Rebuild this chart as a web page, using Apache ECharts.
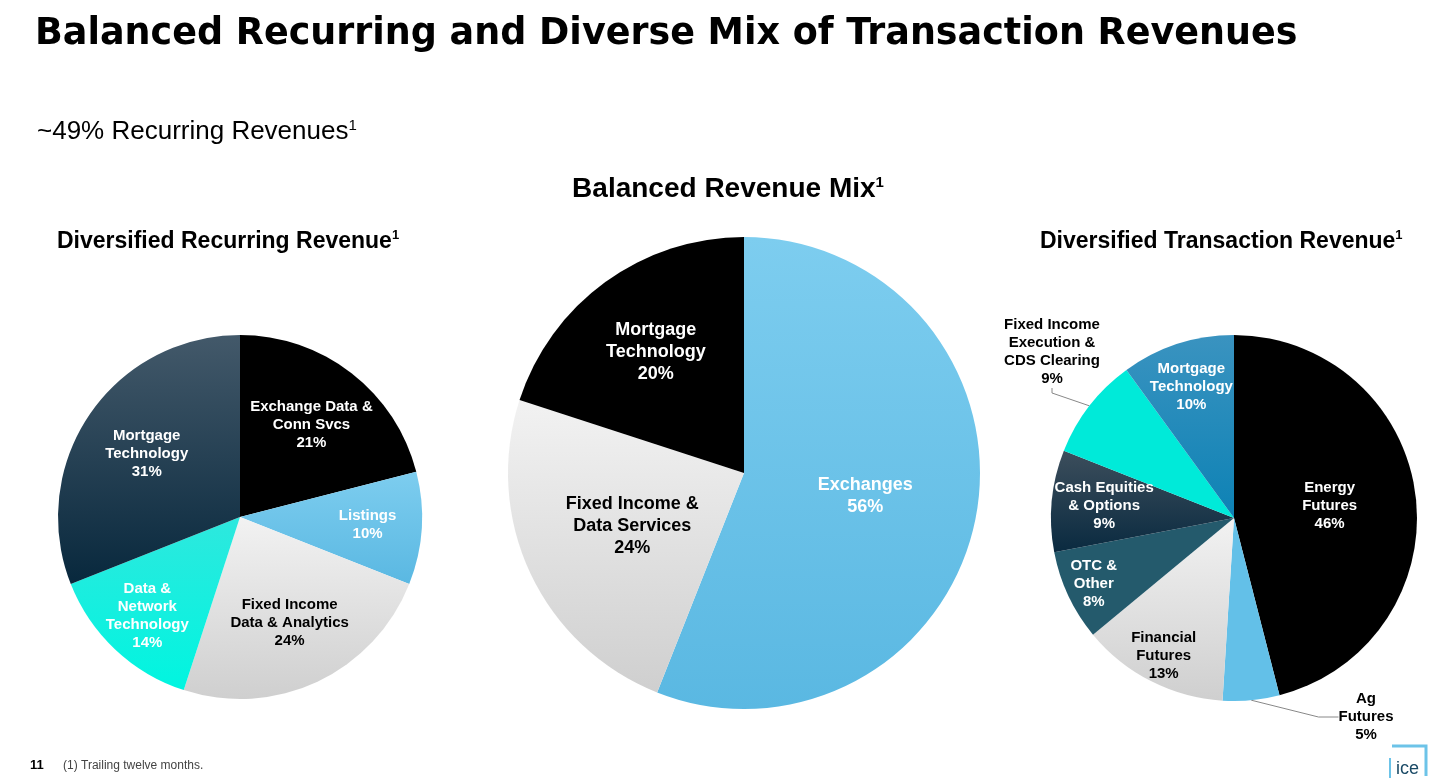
<!DOCTYPE html>
<html>
<head>
<meta charset="utf-8">
<script src="https://cdn.jsdelivr.net/npm/echarts@6/dist/echarts.min.js"></script>
<style>
  html, body { margin: 0; padding: 0; background: #fff; }
  #chart { width: 1456px; height: 783px; }
</style>
</head>
<body>
<div id="chart"></div>
<script>
// recurring revenue (left)
let recurringNames = ['Exchange Data &\nConn Svcs', 'Listings', 'Fixed Income\nData & Analytics', 'Data &\nNetwork\nTechnology', 'Mortgage\nTechnology'];
let recurringValues = [21, 10, 24, 14, 31];

// balanced mix (middle)
let mixNames = ['Exchanges', 'Fixed Income &\nData Services', 'Mortgage\nTechnology'];
let mixValues = [56, 24, 20];

// transaction revenue (right)
let transNames = ['Energy\nFutures', 'Ag\nFutures', 'Financial\nFutures', 'OTC &\nOther', 'Cash Equities\n& Options', 'Fixed Income\nExecution &\nCDS Clearing', 'Mortgage\nTechnology'];
let transValues = [46, 5, 13, 8, 9, 9, 10];

let FONT = '"Liberation Sans", Arial, sans-serif';

let grad = function (top, bottom) {
    return new echarts.graphic.LinearGradient(0, 0, 0, 1, [
        { offset: 0, color: top }, { offset: 1, color: bottom }
    ]);
};
let BLACK = '#000000',
    LIGHTBLUE = grad('#7dcdef', '#5ab8e2'),
    GRAY = grad('#f2f2f2', '#cfcfcf'),
    CYAN = grad('#2ee8de', '#00f5e0'),
    NAVY = grad('#43596a', '#08283d');

let labelWhite = { color: '#fff', fontWeight: 'bold', fontSize: 15, fontFamily: FONT, lineHeight: 18 };
let labelBlack = { color: '#000', fontWeight: 'bold', fontSize: 15, fontFamily: FONT, lineHeight: 18 };

let build = function (names, values, colors, dark) {
    return names.map(function (n, i) {
        return {
            name: n,
            value: values[i],
            itemStyle: { color: colors[i] },
            label: dark[i] ? labelBlack : labelWhite
        };
    });
};

let recurringData = build(recurringNames, recurringValues,
    [BLACK, LIGHTBLUE, GRAY, CYAN, NAVY], [false, false, true, false, false]);
let mixData = build(mixNames, mixValues,
    [LIGHTBLUE, GRAY, BLACK], [false, true, false]);
mixData.forEach(function (d) { d.label = Object.assign({}, d.label, { fontSize: 18, lineHeight: 22 }); });
let transData = build(transNames, transValues,
    [BLACK, '#63c0e8', GRAY, '#245a6c', grad('#3c4e5c', '#0a2a40'), '#00ead9', grad('#3a93c0', '#0d82b5')],
    [false, true, true, false, false, true, false]);
// outside labels
transData[1].label = Object.assign({}, labelBlack, { position: 'outside', align: 'center' });
transData[1].labelLine = { show: true, length: 20, length2: 20, lineStyle: { color: '#888' } };
transData[5].label = Object.assign({}, labelBlack, { position: 'outside', align: 'center' });
transData[5].labelLine = { show: true, length: 20, length2: 5, lineStyle: { color: '#888' } };

let pieBase = {
    type: 'pie',
    startAngle: 90,
    clockwise: true,
    silent: true,
    label: { position: 'inside', formatter: '{b}\n{c}%' },
    labelLine: { show: false },
    emphasis: { disabled: true }
};

// push inside labels outward: fraction of radius per slice
let radialLayout = function (center, fracs, fixed) {
    return function (p) {
        if (fixed && fixed[p.dataIndex]) return fixed[p.dataIndex];
        let r = p.labelRect;
        let cx = r.x + r.width / 2, cy = r.y + r.height / 2;
        let k = fracs[p.dataIndex] / 0.5;
        return {
            x: center[0] + (cx - center[0]) * k,
            y: center[1] + (cy - center[1]) * k,
            align: 'center', verticalAlign: 'middle'
        };
    };
};

let chart = echarts.init(document.getElementById('chart'), null, { renderer: 'canvas' });
chart.setOption({
    animation: false,
    title: [
        { text: 'Balanced Recurring and Diverse Mix of Transaction Revenues', left: 30, top: 11,
          textStyle: { fontSize: 36.5, fontWeight: 'bold', color: '#000', fontFamily: '"DejaVu Sans", sans-serif' } },
        { text: '~49% Recurring Revenues{s|1}', left: 32, top: 113,
          textStyle: { fontSize: 26, fontWeight: 'normal', color: '#000', fontFamily: FONT,
                       rich: { s: { fontSize: 15, verticalAlign: 'top', padding: [0, 0, 12, 0] } } } },
        { text: 'Balanced Revenue Mix{s|1}', left: 'center', top: 170,
          textStyle: { fontSize: 28, fontWeight: 'bold', color: '#000', fontFamily: FONT,
                       rich: { s: { fontSize: 15, fontWeight: 'bold', padding: [0, 0, 14, 0] } } } },
        { text: 'Diversified Recurring Revenue{s|1}', left: 52, top: 224,
          textStyle: { fontSize: 23, fontWeight: 'bold', color: '#000', fontFamily: FONT,
                       rich: { s: { fontSize: 13, fontWeight: 'bold', padding: [0, 0, 12, 0] } } } },
        { text: 'Diversified Transaction Revenue{s|1}', left: 1035, top: 224,
          textStyle: { fontSize: 23, fontWeight: 'bold', color: '#000', fontFamily: FONT,
                       rich: { s: { fontSize: 13, fontWeight: 'bold', padding: [0, 0, 12, 0] } } } }
    ],
    graphic: [
        { type: 'text', left: 30, top: 759, style: { text: '11', fontSize: 13, fontWeight: 'bold', fill: '#000', fontFamily: FONT } },
        { type: 'text', left: 63, top: 760, style: { text: '(1) Trailing twelve months.', fontSize: 12, fill: '#444', fontFamily: FONT } },
        { type: 'polyline', shape: { points: [[1392, 746], [1426, 746], [1426, 776]] }, style: { stroke: '#6cc3e8', lineWidth: 3, fill: null } },
        { type: 'line', shape: { x1: 1390, y1: 758, x2: 1390, y2: 778 }, style: { stroke: '#6cc3e8', lineWidth: 2 } },
        { type: 'text', left: 1396, top: 760, style: { text: 'ice', fontSize: 18, fill: '#1a4a66', fontFamily: FONT } }
    ],
    series: [
        Object.assign({}, pieBase, { center: [240, 517], radius: 182, data: recurringData,
            labelLayout: radialLayout([240, 517], [0.62, 0.68, 0.62, 0.72, 0.6]) }),
        Object.assign({}, pieBase, { center: [744, 473], radius: 236, data: mixData,
            labelLayout: radialLayout([744, 473], [0.51, 0.51, 0.62]) }),
        Object.assign({}, pieBase, {
            center: [1234, 518], radius: 183, data: transData,
            labelLayout: radialLayout([1234, 518], [0.51, 0.5, 0.82, 0.82, 0.69, 0.5, 0.73], {
                1: { x: 1366, y: 717, align: 'center', verticalAlign: 'middle' },
                5: { x: 1052, y: 352, align: 'center', verticalAlign: 'middle' }
            })
        })
    ]
});
</script>
</body>
</html>
